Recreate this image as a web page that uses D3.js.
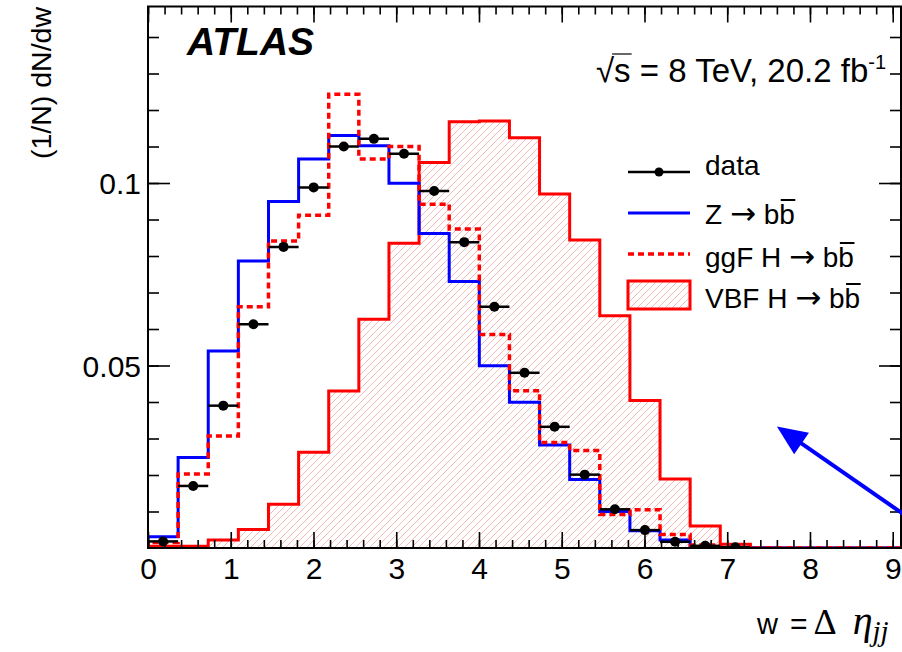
<!DOCTYPE html>
<html>
<head>
<meta charset="utf-8">
<script src="https://cdn.jsdelivr.net/npm/d3@7"></script>
<style>
  html, body { margin: 0; padding: 0; background: #fff; }
  svg { display: block; }
  text { font-family: "Liberation Sans", Arial, sans-serif; }
</style>
</head>
<body>
<svg id="chart" width="902" height="652"></svg>
<script>
// ---------------- data ----------------
const binWidth = 0.364;            // 25 bins over 0 .. 9.1
const nBins = 25;
const dataValues = [0.0018, 0.017, 0.039, 0.0613, 0.0825, 0.0988, 0.110, 0.1121, 0.108, 0.0978,
                    0.0838, 0.0661, 0.048, 0.0332, 0.0201, 0.0106, 0.0049, 0.0017, 0.0006, 0.0002];
const zbbValues = [0.0031, 0.0248, 0.054, 0.0786, 0.0949, 0.1066, 0.113, 0.1102, 0.0999, 0.0862,
                   0.073, 0.0499, 0.0399, 0.0282, 0.0188, 0.0100, 0.0047, 0.0022, 0.0004, 0.0001,
                   0, 0, 0, 0, 0];
const ggfValues = [0.0015, 0.0203, 0.0307, 0.0661, 0.0841, 0.0912, 0.1243, 0.1066, 0.110, 0.0942,
                   0.0874, 0.0585, 0.0431, 0.0289, 0.0267, 0.0092, 0.0105, 0.0037, 0.0008, 0.0002,
                   0, 0, 0, 0, 0];
const vbfValues = [0.0005, 0.0005, 0.0022, 0.0051, 0.012, 0.0262, 0.043, 0.0627, 0.0835, 0.1056,
                   0.1168, 0.117, 0.1124, 0.097, 0.0844, 0.0636, 0.0404, 0.0189, 0.006, 0.001,
                   0.0001, 0, 0, 0, 0];
const xMajorTicks = [0, 1, 2, 3, 4, 5, 6, 7, 8, 9];
const yMajorTicks = [0.05, 0.1];
const yTickLabels = ["0.05", "0.1"];
const legendLabels = [["data", ""], ["Z ", "bb"], ["ggF H ", "bb"], ["VBF H ", "bb"]];
// annotation arrow (data coordinates): tail -> tip
const arrowTail = [9.16, 0.0088];
const arrowTip = [7.6, 0.0333];

// ---------------- layout ----------------
const L = 148, R = 901, T = 6.5, B = 548;
const svg = d3.select("#chart");
const x = d3.scaleLinear().domain([0, 9.1]).range([L, R]);
const y = d3.scaleLinear().domain([0, 0.14836]).range([B, T]);

const defs = svg.append("defs");
const pat = defs.append("pattern").attr("id", "hatch")
  .attr("patternUnits", "userSpaceOnUse").attr("width", 7).attr("height", 7);
pat.append("path").attr("d", "M-1,1 l2,-2 M0,7 l7,-7 M6,8 l2,-2")
  .attr("stroke", "#f4b0b0").attr("stroke-width", 0.9).attr("fill", "none");
defs.append("clipPath").attr("id", "plotclip").append("rect")
  .attr("x", L).attr("y", T).attr("width", R - L).attr("height", B - T);

function stepPoints(vals) {
  const pts = [[0, 0]];
  vals.forEach((v, i) => { pts.push([i * binWidth, v]); pts.push([(i + 1) * binWidth, v]); });
  pts.push([vals.length * binWidth, 0]);
  return pts;
}
const line = d3.line().x(d => x(d[0])).y(d => y(d[1]));

const plot = svg.append("g").attr("clip-path", "url(#plotclip)");

plot.append("path").attr("d", line(stepPoints(vbfValues)) + "Z")
  .attr("fill", "url(#hatch)").attr("stroke", "none");
plot.append("path").attr("d", line(stepPoints(vbfValues)))
  .attr("fill", "none").attr("stroke", "#ff0000").attr("stroke-width", 3);
plot.append("path").attr("d", line(stepPoints(zbbValues)))
  .attr("fill", "none").attr("stroke", "#0000ff").attr("stroke-width", 3);
plot.append("path").attr("d", line(stepPoints(ggfValues)))
  .attr("fill", "none").attr("stroke", "#ff0000").attr("stroke-width", 3.5)
  .attr("stroke-dasharray", "6,4");

const dg = plot.append("g");
dataValues.forEach((v, i) => {
  dg.append("line").attr("x1", x(i * binWidth)).attr("x2", x((i + 1) * binWidth))
    .attr("y1", y(v)).attr("y2", y(v)).attr("stroke", "#000").attr("stroke-width", 2.5);
  dg.append("circle").attr("cx", x((i + 0.5) * binWidth)).attr("cy", y(v)).attr("r", 5).attr("fill", "#000");
});

// ---------------- axes ----------------
const minorX = d3.range(0, 46).map(i => i * 0.2).filter(v => v <= 9.1);
const minorY = d3.range(1, 15).map(i => i * 0.01);

svg.append("g").attr("transform", `translate(0,${B})`)
  .call(d3.axisBottom(x).tickValues(minorX).tickSize(-8).tickFormat(""));
svg.append("g").attr("transform", `translate(0,${B})`)
  .call(d3.axisBottom(x).tickValues(xMajorTicks).tickSize(-16).tickPadding(10).tickFormat(d3.format("d")));
svg.append("g").attr("transform", `translate(0,${T})`)
  .call(d3.axisTop(x).tickValues(minorX).tickSize(-8).tickFormat(""));
svg.append("g").attr("transform", `translate(0,${T})`)
  .call(d3.axisTop(x).tickValues(xMajorTicks).tickSize(-16).tickFormat(""));

svg.append("g").attr("transform", `translate(${L},0)`)
  .call(d3.axisLeft(y).tickValues(minorY).tickSize(-11).tickFormat(""));
const yAx = svg.append("g").attr("transform", `translate(${L},0)`)
  .call(d3.axisLeft(y).tickValues(yMajorTicks).tickSize(-22).tickPadding(7)
    .tickFormat((d, i) => yTickLabels[i]));
svg.append("g").attr("transform", `translate(${R},0)`)
  .call(d3.axisRight(y).tickValues(minorY).tickSize(-11).tickFormat(""));
svg.append("g").attr("transform", `translate(${R},0)`)
  .call(d3.axisRight(y).tickValues(yMajorTicks).tickSize(-22).tickFormat(""));

svg.selectAll(".domain").remove();
svg.selectAll(".tick line").attr("stroke", "#000").attr("stroke-width", 1.6);
svg.selectAll(".tick text").attr("font-family", "Liberation Sans, Arial, sans-serif")
  .attr("font-size", 30).attr("fill", "#000");
yAx.selectAll(".tick text").attr("dy", "0.36em");

svg.append("rect").attr("x", L).attr("y", T).attr("width", R - L).attr("height", B - T)
  .attr("fill", "none").attr("stroke", "#000").attr("stroke-width", 2);

// ---------------- texts ----------------
svg.append("text").attr("x", 187).attr("y", 55).attr("font-size", 39)
  .attr("font-weight", "bold").attr("font-style", "italic").text("ATLAS");

const lumi = svg.append("text").attr("x", 596).attr("y", 82).attr("font-size", 33);
lumi.append("tspan").text("\u221As = 8 TeV, 20.2 fb");
lumi.append("tspan").attr("font-size", 20).attr("dy", -13).text("-1");

svg.append("text").attr("transform", "translate(51,7) rotate(-90)")
  .attr("text-anchor", "end").attr("font-size", 28.5).text("(1/N) dN/dw");

const xt = svg.append("text").attr("x", 757).attr("y", 634);
xt.append("tspan").attr("font-size", 29).text("w");
xt.append("tspan").attr("font-size", 30).attr("dx", 12).text("=");
xt.append("tspan").attr("font-family", "Liberation Serif, serif").attr("font-size", 36).attr("dx", 6).text("\u0394");
xt.append("tspan").attr("font-family", "Liberation Serif, serif").attr("font-style", "italic")
  .attr("font-size", 40).attr("dx", 16).text("\u03B7");
xt.append("tspan").attr("font-family", "Liberation Serif, serif").attr("font-style", "italic")
  .attr("font-size", 29).attr("dy", 7).text("jj");

// ---------------- legend ----------------
const lg = svg.append("g");
const lx0 = 628, lx1 = 690, ltx = 705;
lg.append("line").attr("x1", lx0).attr("x2", lx1).attr("y1", 172).attr("y2", 172)
  .attr("stroke", "#000").attr("stroke-width", 2.5);
lg.append("circle").attr("cx", (lx0 + lx1) / 2).attr("cy", 172).attr("r", 4.5).attr("fill", "#000");
lg.append("line").attr("x1", lx0).attr("x2", lx1).attr("y1", 213).attr("y2", 213)
  .attr("stroke", "#0000ff").attr("stroke-width", 3);
lg.append("line").attr("x1", lx0).attr("x2", lx1).attr("y1", 254).attr("y2", 254)
  .attr("stroke", "#ff0000").attr("stroke-width", 3.5).attr("stroke-dasharray", "6,4");
lg.append("rect").attr("x", lx0).attr("y", 281).attr("width", lx1 - lx0).attr("height", 28)
  .attr("fill", "url(#hatch)").attr("stroke", "#ff0000").attr("stroke-width", 3);

const baselines = [175, 224, 267, 308];
legendLabels.forEach((lab, i) => {
  const t = lg.append("text").attr("x", ltx).attr("y", baselines[i]).attr("font-size", 28);
  t.append("tspan").text(lab[0]);
  if (lab[1]) {
    t.append("tspan").attr("font-family", "DejaVu Sans, sans-serif").attr("font-size", 31).text("\u2192");
    t.append("tspan").text(" " + lab[1]);
    const n = t.node().getNumberOfChars();
    const ext = t.node().getExtentOfChar(n - 1);
    lg.append("line").attr("x1", ext.x + 1.5).attr("x2", ext.x + ext.width + 0.5)
      .attr("y1", baselines[i] - 24).attr("y2", baselines[i] - 24)
      .attr("stroke", "#000").attr("stroke-width", 2);
  }
});

{
  const tn = lumi.node();
  const e = tn.getExtentOfChar(1);
  const e0 = tn.getExtentOfChar(0);
  svg.append("line").attr("x1", e0.x + e0.width - 2).attr("x2", e.x + e.width + 1)
    .attr("y1", e.y + 2).attr("y2", e.y + 2).attr("stroke", "#000").attr("stroke-width", 1.2);
}

// ---------------- annotation arrow ----------------
{
  const tx = x(arrowTip[0]), ty = y(arrowTip[1]);
  const sx = x(arrowTail[0]), sy = y(arrowTail[1]);
  const ang = Math.atan2(ty - sy, tx - sx);
  const hl = 30, hw = 13;
  const bx = tx - hl * Math.cos(ang), by = ty - hl * Math.sin(ang);
  svg.append("line").attr("x1", sx).attr("y1", sy).attr("x2", bx + 5 * Math.cos(ang)).attr("y2", by + 5 * Math.sin(ang))
    .attr("stroke", "#0000ff").attr("stroke-width", 4);
  const px = -Math.sin(ang), py = Math.cos(ang);
  svg.append("path").attr("d", `M${tx},${ty} L${bx + hw * px},${by + hw * py} L${bx - hw * px},${by - hw * py} Z`)
    .attr("fill", "#0000ff");
}
</script>
</body>
</html>
